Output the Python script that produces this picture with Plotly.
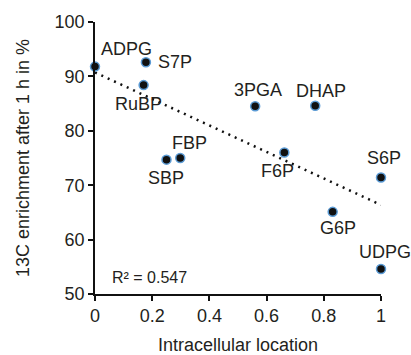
import numpy as np
import plotly.graph_objects as go

names = ["ADPG", "S7P", "RuBP", "SBP", "FBP", "3PGA", "DHAP", "F6P", "S6P", "G6P", "UDPG"]
location = [0.0, 0.178, 0.17, 0.25, 0.298, 0.56, 0.77, 0.662, 1.0, 0.831, 1.0]
enrichment = [91.8, 92.6, 88.4, 74.7, 75.0, 84.5, 84.6, 76.0, 71.4, 65.1, 54.6]
label_dx = [31, 29, -5, -1, 9, 3, 6, -7, 3, 5, 4]
label_dy = [18, 0, -19, -18, 15, 16, 15, -18, 20, -16, 17]
r2_text = "R² = 0.547"
x_ticks = [0, 0.2, 0.4, 0.6, 0.8, 1]
x_ticklabels = ["0", "0.2", "0.4", "0.6", "0.8", "1"]
y_ticks = [50, 60, 70, 80, 90, 100]

FONT = "Liberation Sans, Arial, sans-serif"
TXT = "#231f20"

slope, intercept = np.polyfit(location, enrichment, 1)
trend_x = [0.0, 1.0]
trend_y = [intercept + slope * v for v in trend_x]

fig = go.Figure()
fig.add_trace(go.Scatter(
    x=trend_x, y=trend_y, mode="lines",
    line=dict(color="#111111", width=2.5, dash="2px,5px"),
    hoverinfo="skip", showlegend=False, cliponaxis=False))
fig.add_trace(go.Scatter(
    x=location, y=enrichment, mode="markers",
    marker=dict(size=9, color="#111111", line=dict(color="#5b9bd5", width=1.5)),
    showlegend=False, cliponaxis=False))

for n, xv, yv, dx, dy in zip(names, location, enrichment, label_dx, label_dy):
    fig.add_annotation(x=xv, y=yv, xref="x", yref="y", text=n, showarrow=False,
                       xanchor="center", yanchor="middle", xshift=dx, yshift=dy,
                       font=dict(family=FONT, size=18, color=TXT))

fig.add_annotation(x=0.189, y=0.0625, xref="paper", yref="paper", text=r2_text,
                   showarrow=False, xanchor="center", yanchor="middle",
                   font=dict(family=FONT, size=16, color=TXT))

fig.update_layout(
    width=411, height=355,
    margin=dict(l=95, r=30, t=22, b=61),
    paper_bgcolor="white", plot_bgcolor="white",
    font=dict(family=FONT, size=18, color=TXT),
    xaxis=dict(range=[0, 1], tickvals=x_ticks, ticktext=x_ticklabels,
               automargin=False,
               showline=True, linecolor="#111111", linewidth=1.5,
               ticks="outside", ticklen=5, tickwidth=1.5, tickcolor="#111111",
               showgrid=False, zeroline=False,
               tickfont=dict(family=FONT, size=18, color=TXT),
               title=dict(text="Intracellular location", standoff=14,
                          font=dict(family=FONT, size=18, color=TXT))),
    yaxis=dict(range=[50, 100], tickvals=y_ticks,
               automargin=False,
               showline=True, linecolor="#111111", linewidth=1.5,
               ticks="outside", ticklen=5, tickwidth=1.5, tickcolor="#111111",
               showgrid=False, zeroline=False,
               tickfont=dict(family=FONT, size=18, color=TXT),
               title=dict(text="13C enrichment after 1 h in %", standoff=20,
                          font=dict(family=FONT, size=18, color=TXT))),
)

fig.write_html("out.html", config={"displayModeBar": False},
               post_script="document.body.style.margin='0';document.body.style.padding='0';")
